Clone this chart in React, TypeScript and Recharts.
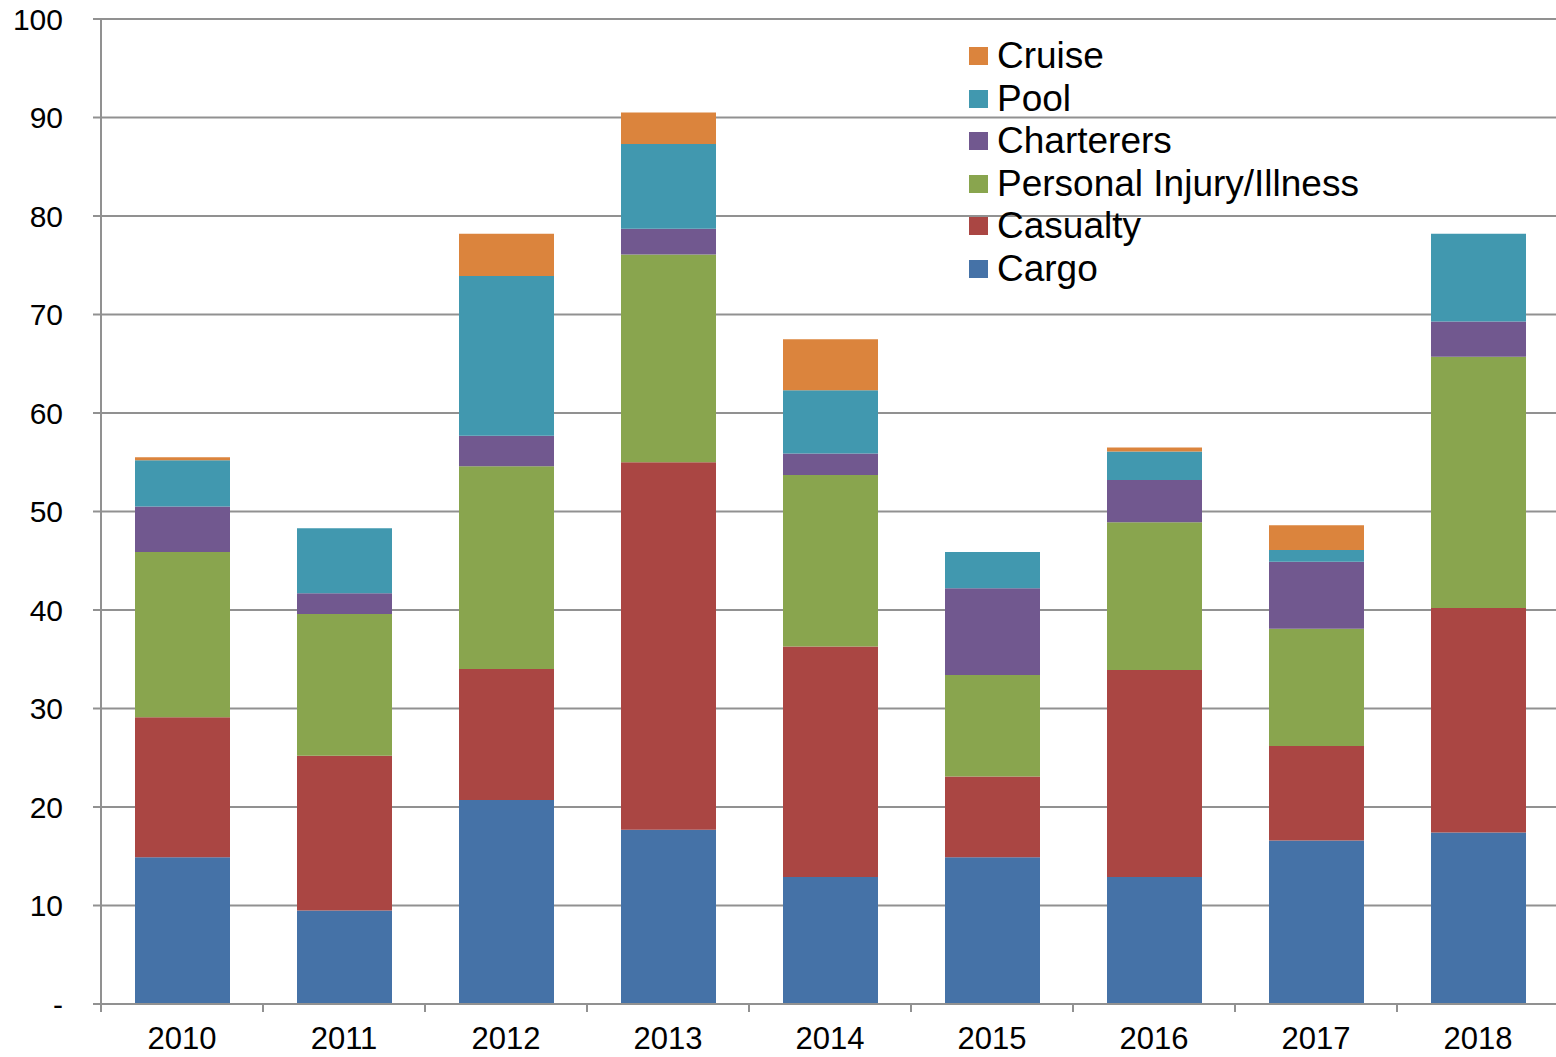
import { BarChart, Bar, XAxis, YAxis, CartesianGrid, Legend } from 'recharts';

const years = ['2010', '2011', '2012', '2013', '2014', '2015', '2016', '2017', '2018'];

const cargo = [14.9, 9.5, 20.7, 17.7, 12.9, 14.9, 12.9, 16.6, 17.4];
const casualty = [14.2, 15.7, 13.3, 37.3, 23.4, 8.2, 21.0, 9.6, 22.8];
const personalInjury = [16.8, 14.4, 20.6, 21.1, 17.4, 10.3, 15.0, 11.9, 25.5];
const charterers = [4.6, 2.1, 3.1, 2.6, 2.2, 8.8, 4.3, 6.8, 3.6];
const pool = [4.7, 6.6, 16.2, 8.6, 6.4, 3.7, 2.9, 1.2, 8.9];
const cruise = [0.3, 0, 4.3, 3.2, 5.2, 0, 0.4, 2.5, 0];

const yTicks = [0, 10, 20, 30, 40, 50, 60, 70, 80, 90, 100];

const series = [
  { key: 'Cargo', values: cargo, color: '#4572A7' },
  { key: 'Casualty', values: casualty, color: '#AA4643' },
  { key: 'Personal Injury/Illness', values: personalInjury, color: '#89A54E' },
  { key: 'Charterers', values: charterers, color: '#71588F' },
  { key: 'Pool', values: pool, color: '#4198AF' },
  { key: 'Cruise', values: cruise, color: '#DB843D' },
];

const chartData = years.map((year, i) => {
  const row: Record<string, string | number> = { year };
  series.forEach(s => {
    row[s.key] = s.values[i];
  });
  return row;
});

const FONT = '"Liberation Sans", Arial, sans-serif';
const AXIS_COLOR = '#919191';
const TICK_SIZE = 8;
const TICK_MARGIN = 15;

function YearTick(props: any) {
  const { x, y, payload, index } = props;
  const half = payload?.offset ?? 0;
  const axisY = y - TICK_SIZE - TICK_MARGIN;
  return (
    <g>
      <line x1={x - half} x2={x - half} y1={axisY} y2={axisY + TICK_SIZE} stroke={AXIS_COLOR} strokeWidth={2} />
      {index === years.length - 1 && (
        <line x1={x + half} x2={x + half} y1={axisY} y2={axisY + TICK_SIZE} stroke={AXIS_COLOR} strokeWidth={2} />
      )}
      <text x={x} y={y} dy="0.71em" textAnchor="middle" fontSize={31} fontFamily={FONT} fill="#000">
        {payload.value}
      </text>
    </g>
  );
}

// legend lists the stack top-down, like the bars
function LegendList() {
  const items = [...series].reverse();
  return (
    <div style={{ fontFamily: FONT, fontSize: 37, color: '#000' }}>
      {items.map(item => (
        <div key={item.key} style={{ display: 'flex', alignItems: 'center', height: 42.5, whiteSpace: 'nowrap' }}>
          <span style={{ display: 'inline-block', width: 19, height: 18, background: item.color, marginRight: 9 }} />
          <span>{item.key}</span>
        </div>
      ))}
    </div>
  );
}

export default function App() {
  return (
    <div style={{ position: 'absolute', left: 0, top: 0, width: 1556, height: 1057, overflow: 'hidden', background: '#fff' }}>
      <BarChart width={1559} height={1057} data={chartData} margin={{ top: 19, right: 0, bottom: 0, left: 0 }}>
        <CartesianGrid vertical={false} stroke={AXIS_COLOR} strokeWidth={2} />
        <XAxis
          dataKey="year"
          height={53}
          axisLine={{ stroke: AXIS_COLOR, strokeWidth: 2 }}
          tickLine={false}
          tickSize={TICK_SIZE}
          tickMargin={TICK_MARGIN}
          tick={<YearTick />}
          interval={0}
        />
        <YAxis
          width={101}
          domain={[0, 100]}
          ticks={yTicks}
          interval={0}
          axisLine={{ stroke: AXIS_COLOR, strokeWidth: 2 }}
          tickLine={{ stroke: AXIS_COLOR, strokeWidth: 2 }}
          tickSize={TICK_SIZE}
          tickMargin={30}
          tick={{ fontSize: 30, fontFamily: FONT, fill: '#000' }}
          tickFormatter={(v: number) => (v === 0 ? '-' : String(v))}
        />
        <Legend
          layout="vertical"
          align="center"
          verticalAlign="middle"
          content={<LegendList />}
          wrapperStyle={{ position: 'absolute', left: 969, top: 35, width: 'auto' }}
        />
        {series.map(s => (
          <Bar key={s.key} dataKey={s.key} stackId="a" fill={s.color} barSize={95} isAnimationActive={false} />
        ))}
      </BarChart>
    </div>
  );
}
